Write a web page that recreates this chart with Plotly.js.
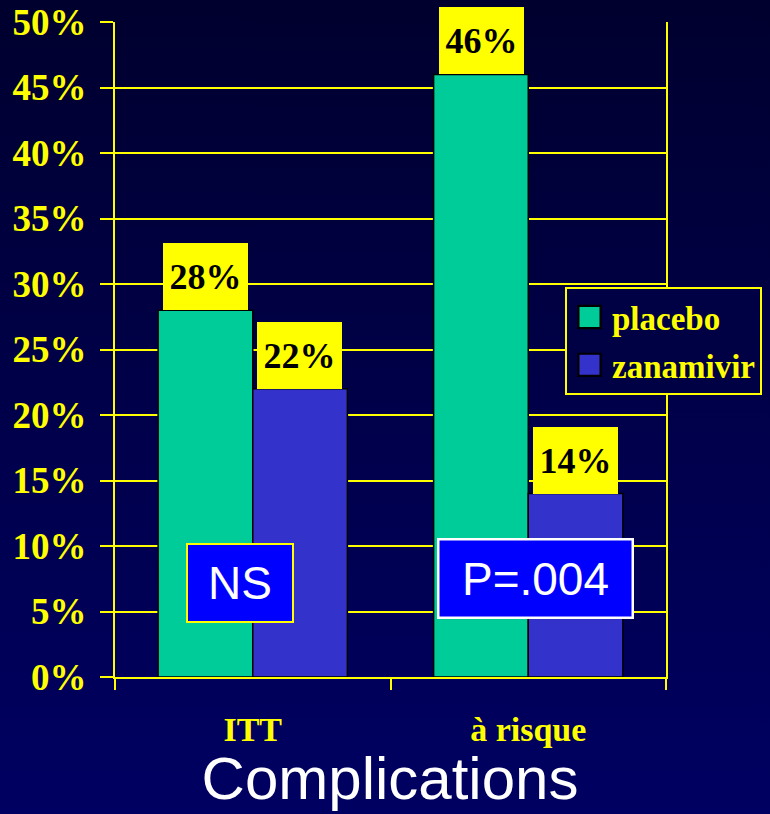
<!DOCTYPE html>
<html><head><meta charset="utf-8">
<script src="https://cdn.plot.ly/plotly-3.0.1.min.js"></script>
<style>
html,body{margin:0;padding:0;width:770px;height:814px;overflow:hidden;
background:linear-gradient(to bottom,#00002e 0%,#00004a 50%,#000062 100%);}
#chart{width:770px;height:814px;}
</style></head>
<body><div id="chart"></div>
<script>
const categories = ['ITT', 'à risque'];
const placebo = [28, 46];
const zanamivir = [22, 14];
const seriesNames = ['placebo', 'zanamivir'];
const pLabels = ['NS', 'P=.004'];
const yTicks = [0, 5, 10, 15, 20, 25, 30, 35, 40, 45, 50];

const serif = 'Liberation Serif, Times New Roman, serif';
const sans = 'Liberation Sans, Arial, sans-serif';

const traces = [
  {type:'bar', name:seriesNames[0], x:categories, y:placebo, legendgroup:'a',
   marker:{color:'#00cc99', line:{color:'#000000', width:1.5}}, hoverinfo:'none'},
  {type:'bar', name:seriesNames[1], x:categories, y:zanamivir, legendgroup:'b',
   marker:{color:'#3333cc', line:{color:'#000000', width:1.5}}, hoverinfo:'none'}
];

const annotations = [];
const series = [placebo, zanamivir];
const shifts = [-47, 47];
series.forEach((vals, s) => {
  vals.forEach((v, i) => {
    annotations.push({xref:'x', yref:'y', x:categories[i], y:v, xshift:shifts[s],
      xanchor:'center', yanchor:'bottom', text:'<b>' + v + '%</b>', showarrow:false,
      bgcolor:'#ffff00', borderwidth:0, borderpad:0, width:85, height:67,
      font:{family:serif, size:36, color:'#000000'}});
  });
});
// significance boxes
annotations.push({xref:'paper', yref:'paper', x:(240-115)/551, y:(677-583)/655,
  xanchor:'center', yanchor:'middle',
  text:pLabels[0], showarrow:false, bgcolor:'#0000ff', bordercolor:'#ffff00',
  borderwidth:2, borderpad:0, width:104, height:76,
  font:{family:sans, size:46, color:'#ffffff'}});
annotations.push({xref:'paper', yref:'paper', x:(535.5-115)/551, y:(677-578)/655,
  xanchor:'center', yanchor:'middle',
  text:pLabels[1], showarrow:false, bgcolor:'#0000ff', bordercolor:'#ffffff',
  borderwidth:2.5, borderpad:0, width:192, height:76,
  font:{family:sans, size:46, color:'#ffffff'}});

const layout = {
  width:770, height:814,
  paper_bgcolor:'rgba(0,0,0,0)', plot_bgcolor:'rgba(0,0,0,0)',
  margin:{l:115, r:104, t:22, b:137, autoexpand:false},
  barmode:'group', bargap:0.313, bargroupgap:0,
  showlegend:true,
  legend:{x:(565-115)/551, y:(677-287)/655, xanchor:'left', yanchor:'top',
    bgcolor:'#000044', bordercolor:'#ffff00', borderwidth:2,
    font:{family:serif, size:33, color:'#ffff00', weight:'bold'},
    traceorder:'grouped', tracegroupgap:2, itemwidth:35},
  title:{text:'Complications', x:390/770, xref:'container', xanchor:'center',
    y:1-799/814, yref:'container', yanchor:'bottom',
    font:{family:sans, size:60, color:'#ffffff'}},
  xaxis:{type:'category', showline:true, linecolor:'#ffff00', linewidth:2,
    ticks:'outside', tickson:'boundaries', ticklen:11, tickcolor:'#ffff00', tickwidth:2,
    tickfont:{family:serif, size:34, color:'#ffff00', weight:'bold'},
    ticklabelstandoff:21, showgrid:false, zeroline:false, fixedrange:true},
  yaxis:{range:[0,50], tickvals:yTicks, ticktext:yTicks.map(v => v + '%'),
    showline:true, mirror:true, linecolor:'#ffff00', linewidth:2,
    ticks:'outside', ticklen:13, tickcolor:'#ffff00', tickwidth:2,
    showgrid:true, gridcolor:'#ffff00', gridwidth:2, zeroline:false,
    tickfont:{family:serif, size:37, color:'#ffff00', weight:'bold'},
    ticklabelstandoff:6, fixedrange:true},
  annotations:annotations
};

Plotly.newPlot('chart', traces, layout, {displayModeBar:false, staticPlot:true}).then(gd => {
  // enlarge the legend swatches to match the reference's larger squares
  gd.querySelectorAll('.legend .legendpoints path').forEach(p => {
    const t = p.getAttribute('transform') || '';
    p.setAttribute('transform', t + ' scale(1.85)');
    p.style.strokeWidth = '1.2px';
  });
});
</script></body></html>
